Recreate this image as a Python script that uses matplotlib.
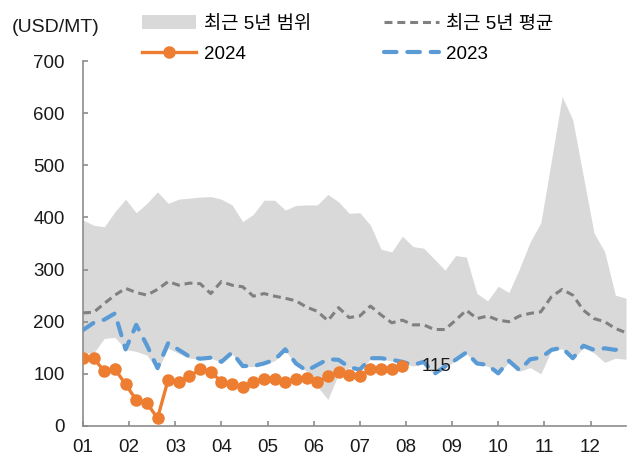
import numpy as np
import matplotlib
matplotlib.use("Agg")
import matplotlib.pyplot as plt
from matplotlib.patches import Patch
from matplotlib.lines import Line2D

plt.rcParams['font.family'] = ['Liberation Sans', 'Noto Sans CJK KR']

# --- data (weekly, 52 weeks) ---
months = ['01', '02', '03', '04', '05', '06', '07', '08', '09', '10', '11', '12']

range_high = [395, 385, 382, 411, 435, 409, 427, 449, 427, 435,
              437, 439, 440, 435, 424, 392, 406, 433, 433, 414,
              423, 424, 424, 444, 430, 408, 409, 385, 339, 334,
              364, 344, 341, 320, 299, 327, 324, 254, 240, 268,
              256, 302, 353, 390, 510, 632, 587, 478, 370, 334,
              251, 245]
range_low = [140, 140, 168, 170, 147, 143, 136, 107, 149, 139,
             130, 128, 130, 122, 138, 114, 114, 118, 125, 145,
             118, 105, 76, 51, 100, 112, 107, 128, 128, 125,
             120, 115, 120, 98, 112, 125, 139, 118, 115, 100,
             122, 105, 112, 100, 145, 148, 128, 150, 140, 122,
             130, 128]
avg_5y = [217, 218, 235, 251, 264, 256, 251, 262, 277, 270,
          274, 273, 254, 277, 270, 267, 249, 254, 249, 245,
          240, 228, 220, 202, 227, 208, 211, 230, 213, 198,
          203, 194, 194, 185, 185, 203, 222, 206, 211, 203,
          200, 211, 216, 219, 248, 262, 251, 222, 206, 200,
          187, 179]
y2023 = [184, 198, 204, 216, 147, 194, 155, 111, 159, 146,
         133, 129, 131, 123, 141, 115, 115, 120, 127, 147,
         120, 106, 117, 128, 127, 113, 108, 130, 130, 127,
         123, 117, 123, 100, 114, 127, 141, 120, 117, 101,
         125, 107, 128, 131, 146, 150, 130, 154, 146, 149,
         146, 151]
y2024 = [130, 130, 105, 109, 80, 50, 44, 15, 89, 85,
         95, 109, 104, 85, 80, 74, 85, 90, 90, 84,
         90, 93, 84, 95, 104, 98, 95, 109, 109, 109,
         115]

weeks = np.arange(len(range_high))
w24 = np.arange(len(y2024))
month_pos = [m * 52 / 12 for m in range(12)]

C_BAND = '#d9d9d9'
C_AVG = '#808080'
C_23 = '#5b9bd5'
C_24 = '#ed7d31'

fig = plt.figure(figsize=(6.35, 4.58), dpi=100)
ax = fig.add_axes([83 / 635, 32 / 458, 543 / 635, 365 / 458])

ax.fill_between(weeks, range_low, range_high, color=C_BAND, lw=0, zorder=1)
ax.plot(weeks, avg_5y, color=C_AVG, lw=2.2, dashes=(2.6, 1.6), zorder=2)
ax.plot(weeks, y2023, color=C_23, lw=3.0, dashes=(3.0, 2.6),
        dash_capstyle='round', zorder=3)
ax.plot(w24, y2024, color=C_24, lw=2.4, marker='o', ms=8, zorder=4)

ax.text(w24[-1] + 1.8, y2024[-1], str(y2024[-1]), fontsize=13.5,
        va='center', ha='left', color='#1a1a1a', zorder=5)

ax.set_xlim(0, 51)
ax.set_ylim(0, 700)
ax.set_yticks(range(0, 701, 100))
ax.set_xticks(month_pos)
ax.set_xticklabels(months)

for s in ['top', 'right']:
    ax.spines[s].set_visible(False)
for s in ['left', 'bottom']:
    ax.spines[s].set_color('#8c8c8c')
    ax.spines[s].set_linewidth(1.2)
ax.tick_params(axis='both', direction='in', length=3.5, width=1.2,
               color='#8c8c8c', labelsize=13.5, labelcolor='#1a1a1a')
ax.tick_params(axis='y', pad=13)
ax.tick_params(axis='x', pad=9)

fig.text(12 / 635, 1 - 27 / 458, '(USD/MT)', fontsize=14,
         va='center', ha='left', color='#1a1a1a')

handles = [
    Patch(facecolor=C_BAND, edgecolor='none'),
    Line2D([], [], color=C_24, lw=2.4, marker='o', ms=8),
    Line2D([], [], color=C_AVG, lw=2.2, dashes=(2.6, 1.6)),
    Line2D([], [], color=C_23, lw=3.0, dashes=(3.0, 2.6), dash_capstyle='round'),
]
labels = ['최근 5년 범위', '2024', '최근 5년 평균', '2023']
fig.legend(handles, labels, ncol=2, loc='upper left',
           bbox_to_anchor=(142 / 635, 1 - 15 / 458), frameon=False,
           fontsize=13.5, handlelength=2.9, handletextpad=0.4,
           columnspacing=3.9, labelspacing=0.68, borderpad=0,
           borderaxespad=0, handleheight=0.8)

fig.savefig('out.png', dpi=100)
